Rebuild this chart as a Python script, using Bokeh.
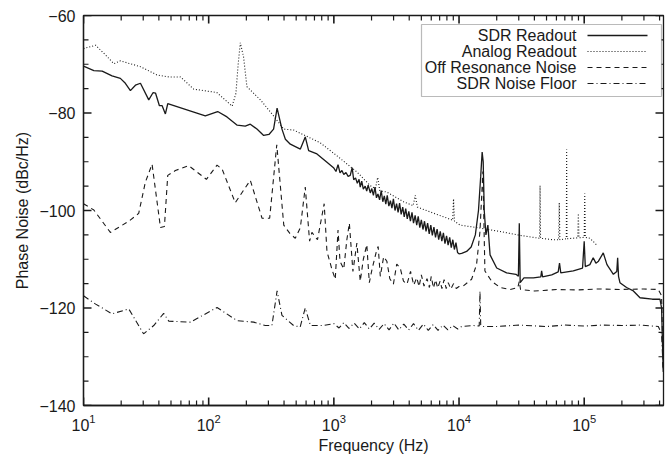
import math
from bokeh.plotting import figure
from bokeh.models import FixedTicker, Label, Arrow, BoxAnnotation, Range1d
from bokeh.embed import file_html
from bokeh.resources import INLINE

# ---------------- data ----------------
sdr_f = [10, 12.1, 14.1, 16.9, 19.7, 21.6, 23.7, 26, 28.5, 33.2, 36, 37.6, 40.4, 42.5, 45.1, 47.1,
         94, 118, 140, 169, 196, 215, 243, 275, 303, 330, 352, 385, 410, 449, 540, 591, 629, 733, 881,
         1000, 1040, 1080, 1120, 1160, 1200, 1250, 1300, 1352, 1400, 1440, 1490, 1540, 1590, 1625, 1670,
         1720, 1780, 1830, 1880, 1955, 2010, 2070, 2130, 2190, 2250, 2320, 2390, 2460, 2530, 2600, 2670,
         2750, 2830, 2910, 2990, 3080, 3170, 3260, 3350, 3450, 3550, 3650, 3750, 3860, 3970, 4090, 4210,
         4330, 4460, 4590, 4720, 4860, 5000, 5150, 5300, 5450, 5610, 5780, 5950, 6120, 6300, 6490, 6680,
         6880, 7080, 7290, 7500, 7720, 7950, 8180, 8420, 8670, 8920, 9180, 9450, 9730, 10000,
         10500, 11500, 12500, 13500, 14300, 14900, 15300, 15600, 15900, 16400, 17000, 17700, 20000,
         24000, 28500, 29800, 30300, 30800, 33000, 39300, 45000, 45700, 46500, 55000, 62000, 63500,
         65000, 81800, 97000, 100000, 102000, 111000, 118000, 124000, 130000, 142000, 152000, 165000,
         171000, 182000, 185000, 188000, 193000, 218000, 247000, 279000, 350000, 403000, 415000, 428000]
sdr_db = [-70.4, -71.3, -71.4, -72.4, -72.9, -73.9, -75.4, -74.3, -73.9, -77.3, -75.8, -75.9, -78.5, -78.5, -80.2, -78.1,
          -80.6, -79.7, -80.8, -82.5, -82.7, -82.3, -83.3, -84.6, -84.4, -83.3, -79.0, -83.3, -85.4, -86.4, -87.4, -84.9, -87.7, -88.4, -90.1,
          -91.3, -92.0, -90.6, -92.3, -91.8, -92.6, -92.2, -93.0, -92.8, -91.2, -93.7, -93.3, -94.4, -93.6, -95.2, -94.0,
          -95.6, -95.0, -96.0, -94.8, -96.4, -95.5, -96.9, -95.2, -97.4, -96.6, -97.8, -95.9, -98.2, -97.0, -98.7, -96.9,
          -99.1, -98.0, -99.5, -97.6, -100.0, -98.6, -100.4, -98.5, -100.8, -99.3, -101.3, -99.6, -101.7, -100.2, -102.2, -100.4,
          -102.6, -101.0, -103.0, -101.2, -103.5, -101.9, -103.9, -102.2, -104.3, -102.6, -104.8, -103.0, -105.1, -103.4, -105.5, -103.8,
          -106.0, -104.3, -106.3, -104.6, -106.8, -105.2, -107.1, -105.5, -107.6, -106.0, -108.0, -106.6, -108.6, -108.9,
          -108.8, -108.4, -107.5, -105.0, -100.0, -93.0, -88.0, -90.0, -100.0, -105.0, -103.0, -109.1, -111.8,
          -112.8, -113.1, -113.5, -102.6, -114.8, -113.8, -113.8, -113.6, -112.4, -113.6, -113.2, -112.6, -110.8,
          -112.8, -112.4, -111.8, -106.3, -111.5, -111.1, -109.7, -110.8, -110.4, -108.7, -111.1, -112.5,
          -113.1, -112.5, -109.7, -113.5, -114.8, -115.8, -116.5, -117.9, -118.2, -118.2, -120.0, -133.0]

ana_f = [10, 12.5, 15, 17.5, 19.7, 28.5, 38.7, 48, 59.5, 75.9, 116, 154, 165, 172, 179, 190, 202, 259, 330,
         398, 477, 778, 1060, 1530, 1955, 2150, 2240, 2330, 2650, 3600, 4300, 4470, 4650, 5890, 7520, 8900,
         9040, 9200, 10200, 14700, 21300, 30700, 44000, 44400, 44800, 56600, 62500, 63200, 63900, 72000,
         72400, 72800, 88800, 89800, 90800, 100000, 101000, 102000, 111000, 122000, 125000]
ana_db = [-66.8, -66.1, -68.1, -69.9, -69.3, -70.5, -72.2, -72.6, -72.6, -75.1, -75.8, -78.6, -76.0, -70.0, -65.6, -68.5, -74.6, -77.3, -80.6,
          -83.3, -83.5, -86.1, -88.8, -92.1, -94.9, -95.5, -93.2, -96.0, -96.2, -98.2, -99.0, -96.9, -99.3, -100.3, -101.3, -102.0,
          -97.6, -102.2, -103.0, -103.6, -104.3, -105.1, -105.7, -94.9, -105.7, -106.0, -106.0, -98.4, -106.0, -105.8,
          -87.5, -105.8, -105.6, -100.6, -105.6, -105.5, -96.5, -105.5, -105.7, -106.7, -107.0]

off_f = [10, 12.1, 16.4, 23, 27.6, 31.2, 35.3, 41.2, 44.3, 47.1, 54.2, 69.2, 95.9, 116.6, 128, 163, 215, 267, 307,
         350, 398, 445, 492, 540, 591, 640, 668, 740, 837, 881, 966, 1026, 1080, 1120, 1200, 1270, 1330, 1420,
         1527, 1625, 1720, 1833, 1920, 2020, 2200, 2260, 2350, 2500, 2650, 2800, 2990, 3180, 3390, 3600, 3840,
         4100, 4350, 4590, 4800, 5000, 5250, 5550, 5800, 6000, 6250, 6500, 6750, 7060, 7300, 7600, 7900,
         8200, 8600, 9040, 9500, 10000, 10800, 12600, 13800, 14700, 15500, 16100,
         18200, 21300, 25600, 29500, 30300, 31000, 40000, 47300, 60000, 87100, 130000, 193000, 300000,
         391000, 415000, 428000]
off_db = [-98.6, -99.9, -104.5, -102.2, -100.6, -94.2, -90.5, -103.5, -103.3, -92.8, -91.8, -90.8, -93.6, -90.7, -91.5, -98.4, -93.8, -101.6, -101.6,
          -86.5, -103.0, -104.7, -105.7, -103.5, -95.2, -106.3, -104.5, -106.0, -98.6, -108.4, -112.1, -114.1, -104.0, -110.4, -112.0, -106.0, -102.6, -112.5,
          -106.7, -114.5, -110.0, -107.0, -114.8, -112.0, -108.1, -107.4, -113.5, -109.5, -110.4, -114.0, -115.1, -111.0, -111.8, -114.5, -115.1,
          -112.5, -115.3, -113.8, -115.6, -113.2, -115.5, -114.0, -115.8, -113.5, -115.9, -114.2, -115.9, -114.5, -116.0, -114.2, -116.0,
          -114.8, -116.1, -115.0, -116.0, -115.6, -115.5, -114.1, -111.1, -104.3, -92.0, -112.4,
          -114.5, -115.8, -116.2, -115.8, -114.5, -116.2, -116.5, -116.4, -116.2, -116.3, -116.1, -116.2, -116.1,
          -116.2, -117.5, -133.0]

flr_f = [10, 12.5, 16.9, 23, 30.2, 36.4, 43.7, 48, 71.5, 116.6, 169, 229, 283, 320, 352, 385, 430, 477, 538,
         591, 650, 827, 1000, 1100, 1200, 1320, 1450, 1600, 1750, 1920, 2100, 2300, 2520, 2760, 3020, 3300,
         3620, 3960, 4330, 4740, 5190, 5680, 6220, 6800, 7450, 8150, 8920, 9760, 10500, 13000, 14500,
         14700, 14900, 15500, 20000, 30000, 50000, 70000, 100000, 140000, 200000, 280000, 391000, 415000, 428000]
flr_db = [-117.5, -119.2, -121.2, -120.2, -125.3, -123.6, -121.1, -122.7, -122.9, -119.9, -122.6, -122.9, -123.6, -123.6, -116.5, -121.5, -122.6, -123.6, -123.9,
          -120.0, -123.6, -123.6, -123.2, -124.1, -123.0, -124.2, -123.1, -124.3, -123.0, -124.3, -123.1, -124.4, -123.2, -124.5, -123.1, -124.5,
          -123.3, -124.5, -123.2, -124.6, -123.3, -124.6, -123.4, -124.6, -123.5, -124.5, -123.6, -124.3, -123.8, -123.6, -123.7,
          -116.5, -123.6, -123.8, -123.8, -123.5, -123.8, -123.5, -123.7, -123.5, -123.6, -123.5, -123.8, -125.3, -133.0]

X_MIN, X_MAX = 10, 4.3e5
Y_MIN, Y_MAX = -140, -60
x_major = [10, 100, 1000, 10000, 100000]
x_minor = [m * d for d in [10, 100, 1000, 10000, 100000] for m in range(2, 10) if m * d <= X_MAX]
y_major = [-140, -120, -100, -80, -60]
y_minor = [v for v in range(-140, -55, 5) if v not in y_major]
y_labels = {v: "\u2212" + str(abs(v)) for v in y_major}

series_names = ["SDR Readout", "Analog Readout", "Off Resonance Noise", "SDR Noise Floor"]

# ---------------- figure ----------------
FONT = "Liberation Sans"
INK = "#1a1a1a"

p = figure(width=665, height=456, x_axis_type="log",
           x_range=Range1d(X_MIN, X_MAX), y_range=Range1d(Y_MIN, Y_MAX),
           output_backend="svg", toolbar_location=None,
           min_border_left=83, min_border_right=2, min_border_top=15, min_border_bottom=47)
p.xgrid.visible = False
p.ygrid.visible = False
p.outline_line_color = INK
p.outline_line_width = 1.3
p.background_fill_color = "white"
p.border_fill_color = "white"

styles = [dict(line_width=1.3),
          dict(line_width=1.1, line_dash="1 2"),
          dict(line_width=1.1, line_dash="5 4"),
          dict(line_width=1.1, line_dash="6 3 1 3")]

p.line(sdr_f, sdr_db, line_color=INK, **styles[0])
p.line(ana_f, ana_db, line_color=INK, **styles[1])
p.line(off_f, off_db, line_color=INK, **styles[2])
p.line(flr_f, flr_db, line_color=INK, **styles[3])

# inward tick marks on all four sides (screen-length rays)
def ticks(xs, ys, length, angle, width):
    p.ray(x=xs, y=ys, length=length, angle=angle, length_units="screen",
          line_color=INK, line_width=width)

ticks(x_major, [Y_MIN] * len(x_major), 8, math.pi / 2, 1.6)
ticks(x_minor, [Y_MIN] * len(x_minor), 5, math.pi / 2, 1.2)
ticks(x_major, [Y_MAX] * len(x_major), 8, -math.pi / 2, 1.6)
ticks(x_minor, [Y_MAX] * len(x_minor), 5, -math.pi / 2, 1.2)
ticks([X_MIN] * len(y_major), y_major, 8, 0.0, 1.6)
ticks([X_MIN] * len(y_minor), y_minor, 5, 0.0, 1.2)
ticks([X_MAX] * len(y_major), y_major, 8, math.pi, 1.6)
ticks([X_MAX] * len(y_minor), y_minor, 5, math.pi, 1.2)

def style_axis(ax):
    ax.axis_line_color = INK
    ax.axis_line_width = 1.3
    ax.major_tick_line_color = None
    ax.minor_tick_line_color = None
    ax.major_tick_in = 0
    ax.major_tick_out = 0
    ax.minor_tick_in = 0
    ax.minor_tick_out = 0
    ax.major_label_text_font = FONT
    ax.major_label_text_font_size = "16px"
    ax.major_label_text_color = INK
    ax.axis_label_text_font = FONT
    ax.axis_label_text_font_size = "16px"
    ax.axis_label_text_font_style = "normal"
    ax.axis_label_text_color = INK

xax = p.xaxis[0]
xax.ticker = FixedTicker(ticks=x_major)
style_axis(xax)
xax.axis_label = "Frequency (Hz)"
xax.major_label_standoff = 8
xax.axis_label_standoff = 3

yax = p.yaxis[0]
yax.ticker = FixedTicker(ticks=y_major)
yax.major_label_overrides = y_labels
style_axis(yax)
yax.axis_label = "Phase Noise (dBc/Hz)"
yax.major_label_standoff = 8
yax.axis_label_standoff = 5

# ---------------- legend (frame-relative screen units) ----------------
p.add_layout(BoxAnnotation(left=338, right=578, top=381, bottom=309,
                           left_units="screen", right_units="screen",
                           top_units="screen", bottom_units="screen",
                           fill_color="white", fill_alpha=1.0,
                           line_color=INK, line_width=1.2))
rows = [370, 354, 338, 322]
for name, st, yy in zip(series_names, styles, rows):
    p.add_layout(Label(x=493, y=yy, x_units="screen", y_units="screen", text=name,
                       text_align="right", text_baseline="middle",
                       text_font=FONT, text_font_size="16px", text_color=INK))
    p.add_layout(Arrow(x_start=504, y_start=yy, x_end=564, y_end=yy,
                       start_units="screen", end_units="screen",
                       start=None, end=None, line_color=INK, **st))

open("out.html", "w").write(file_html(p, INLINE))
